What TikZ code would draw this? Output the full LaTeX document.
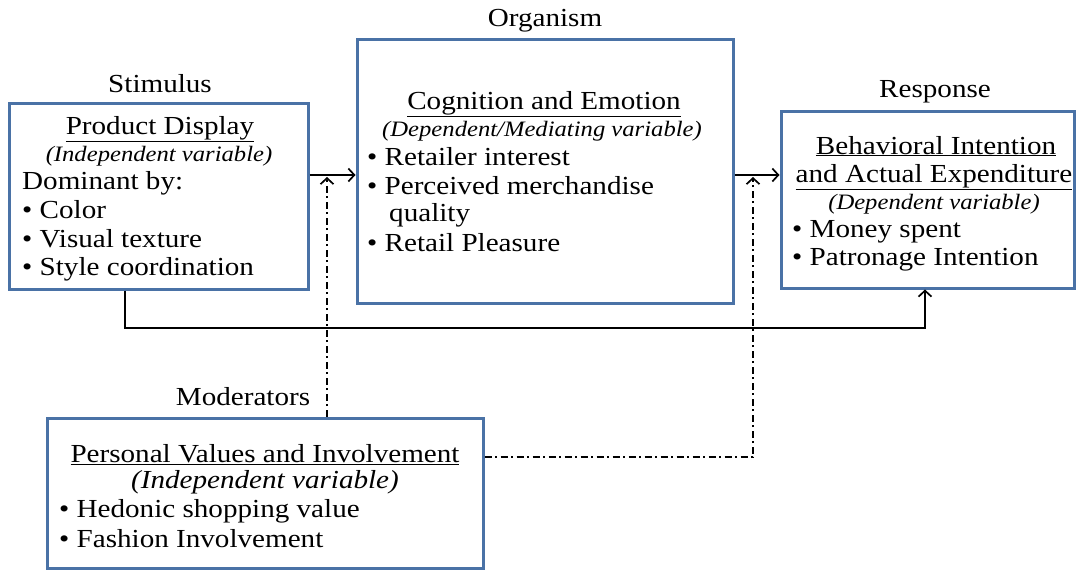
\documentclass[tikz,border=0pt]{standalone}
\usepackage{fontspec}
\setmainfont{Liberation Serif}[FakeStretch=1.12]
\usetikzlibrary{arrows.meta}
\definecolor{boxblue}{HTML}{4A72A6}
\begin{document}
\begin{tikzpicture}[x=1pt,y=-1pt,
  box/.style={draw=boxblue,line width=3pt,fill=white,inner sep=0pt},
  txt/.style={inner sep=0pt,font=\fontsize{26}{29}\selectfont},
  itx/.style={inner sep=0pt,font=\fontsize{22}{26}\selectfont\itshape},
  itbig/.style={inner sep=0pt,font=\fontsize{26}{29}\selectfont\itshape},
  conn/.style={draw=black,line width=1.7pt},
  tipa/.style={-{Straight Barb[length=6pt,width=13pt,line width=1.7pt]}},
  dd/.style={conn,dash pattern=on 7pt off 3.5pt on 2pt off 3.5pt}]
\useasboundingbox (0,0) rectangle (1081,571);
% boxes
\node[box,minimum width=299pt,minimum height=186pt] (stim) at (158.5,196) {};
\node[box,minimum width=376pt,minimum height=264pt] (org) at (545,171) {};
\node[box,minimum width=293pt,minimum height=177pt] (resp) at (927.5,199.5) {};
\node[box,minimum width=436pt,minimum height=150pt] (mod) at (265,493) {};
% section labels
\node[txt,anchor=base] (lstim) at (160,92) {Stimulus};
\node[txt,anchor=base] (lorg) at (545,26) {Organism};
\node[txt,anchor=base] (lresp) at (935,97) {Response};
\node[txt,anchor=base] (lmod) at (243,405) {Moderators};
% stimulus text
\node[txt,anchor=base] (s1) at (160,134) {\underline{Product Display}};
\node[itx,anchor=base] (s2) at (159,161) {(Independent variable)};
\node[txt,anchor=base west] (s3) at (22,189) {Dominant by:};
\node[txt,anchor=base west] (s4) at (22,218) {\textbullet\ Color};
\node[txt,anchor=base west] (s5) at (22,247) {\textbullet\ Visual texture};
\node[txt,anchor=base west] (s6) at (22,275) {\textbullet\ Style coordination};
% organism text
\node[txt,anchor=base] (o1) at (544,109) {\underline{Cognition and Emotion}};
\node[itx,anchor=base] (o2) at (542,136) {(Dependent/Mediating variable)};
\node[txt,anchor=base west] (o3) at (367,165) {\textbullet\ Retailer interest};
\node[txt,anchor=base west] (o4) at (367,194) {\textbullet\ Perceived merchandise};
\node[txt,anchor=base west] (o5) at (389,221) {quality};
\node[txt,anchor=base west] (o6) at (367,251) {\textbullet\ Retail Pleasure};
% response text
\node[txt,anchor=base] (r1) at (936,154) {\underline{Behavioral Intention}};
\node[txt,anchor=base] (r2) at (934,182) {\underline{and Actual Expenditure}};
\node[itx,anchor=base] (r3) at (934,209) {(Dependent variable)};
\node[txt,anchor=base west] (r4) at (792,237) {\textbullet\ Money spent};
\node[txt,anchor=base west] (r5) at (792,265) {\textbullet\ Patronage Intention};
% moderator text
\node[txt,anchor=base] (m1) at (265,462) {\underline{Personal Values and Involvement}};
\node[itbig,anchor=base] (m2) at (265,488) {(Independent variable)};
\node[txt,anchor=base west] (m3) at (59,517) {\textbullet\ Hedonic shopping value};
\node[txt,anchor=base west] (m4) at (59,547) {\textbullet\ Fashion Involvement};
% helper coordinates
\coordinate (ay) at (0,175);
\coordinate (tipy) at (0,177);
\coordinate (by) at (0,328);
\coordinate (sx) at (125,0);
\coordinate (rx) at (925,0);
\coordinate (d1x) at (327,0);
\coordinate (d2x) at (753,0);
\coordinate (d2y) at (0,457);
% connectors
\draw[conn,tipa] (stim.east |- ay) -- (org.west |- ay);
\draw[conn,tipa] (org.east |- ay) -- (resp.west |- ay);
\draw[conn,tipa] (stim.south -| sx) -- (sx |- by) -- (rx |- by) -- (resp.south -| rx);
\draw[dd,tipa] (mod.north -| d1x) -- (d1x |- tipy);
\draw[dd,tipa] (mod.east |- d2y) -- (d2x |- d2y) -- (d2x |- tipy);
\end{tikzpicture}
\end{document}
